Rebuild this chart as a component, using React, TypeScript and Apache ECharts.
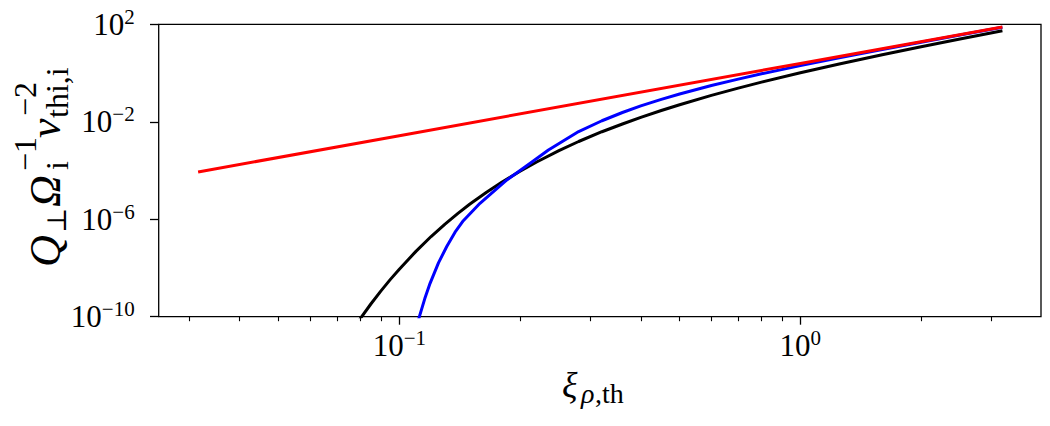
import React, { useEffect, useRef } from "react";
import * as echarts from "echarts";

// ---- data ----
const blackX = [0.078, 0.08, 0.085, 0.09, 0.095, 0.1, 0.11, 0.12, 0.13, 0.14, 0.15, 0.165, 0.18, 0.2, 0.22, 0.25, 0.28, 0.32, 0.36, 0.4, 0.45, 0.5, 0.6, 0.7, 0.8, 1.0, 1.25, 1.6, 2.0, 2.5, 3.19];
const blackY = [4.7e-11, 8.5e-11, 3.4e-10, 1.15e-9, 3.4e-9, 8.9e-9, 4.8e-8, 1.95e-7, 6.3e-7, 1.74e-6, 4.2e-6, 1.29e-5, 3.3e-5, 9.3e-5, 2.24e-4, 6.5e-4, 1.55e-3, 3.9e-3, 8.1e-3, 1.51e-2, 2.9e-2, 5.0e-2, 0.121, 0.24, 0.424, 1.03, 2.36, 5.64, 12.0, 25.0, 54.7];

const blueX = [0.1096, 0.1122, 0.1157, 0.1193, 0.1252, 0.1313, 0.1377, 0.1444, 0.1589, 0.1854, 0.212, 0.2354, 0.28, 0.32, 0.36, 0.4, 0.45, 0.5, 0.6, 0.7, 0.8, 1.0, 1.25, 1.6, 2.0, 2.5, 3.19];
const blueY = [2.5e-11, 1.0e-10, 5.4e-10, 2.34e-9, 1.62e-8, 7.6e-8, 2.95e-7, 8.7e-7, 4.5e-6, 4.08e-5, 1.98e-4, 6.95e-4, 3.98e-3, 1.1e-2, 2.4e-2, 4.47e-2, 8.3e-2, 0.138, 0.306, 0.562, 0.927, 2.02, 4.21, 9.23, 18.4, 36.4, 75.9];

const redX = [0.0315, 0.1, 1.0, 3.19];
const redY = [8.7e-5, 2.69e-3, 2.48, 77.4];

const xMajorTicks = [0.1, 1];
const xMinorTicks = [0.03, 0.04, 0.05, 0.06, 0.07, 0.08, 0.09, 0.2, 0.3, 0.4, 0.5, 0.6, 0.7, 0.8, 0.9, 2, 3];
const yMajorTicks = [1e-10, 1e-6, 1e-2, 1e2];
const xMin = 0.025119; // 10^-1.6
const xMax = 3.98107; // 10^0.6
const yMin = 1e-10;
const yMax = 1e2;

const SERIF = '"Liberation Serif", "DejaVu Serif", serif';

function pairs(xs: number[], ys: number[]) {
  return xs.map((x, i) => [x, ys[i]]);
}

function powLabel(v: number) {
  const e = Math.round(Math.log10(v));
  const s = e < 0 ? "\u2212" + -e : String(e);
  return `{b|10}{s|${s}}`;
}

const richTick = {
  b: { fontFamily: SERIF, fontSize: 31, lineHeight: 36, color: "#000", verticalAlign: "middle" },
  s: { fontFamily: SERIF, fontSize: 21, lineHeight: 21, color: "#000", verticalAlign: "top" },
};

// text helper: place by baseline
function t(text: string, x: number, baseline: number, size: number, italic: boolean, family = SERIF) {
  return {
    type: "text",
    x,
    y: baseline - 0.34 * size,
    silent: true,
    style: {
      text,
      font: `${italic ? "italic " : ""}${size}px ${family}`,
      fill: "#000",
      align: "left",
      verticalAlign: "middle",
    },
  };
}

export default function App() {
  const ref = useRef<HTMLDivElement>(null);
  useEffect(() => {
    document.body.style.margin = "0";
    const chart = echarts.init(ref.current!, null, { renderer: "svg" });
    const F = 44;
    const S = 32;
    const yLabel = {
      type: "group",
      x: 60,
      y: 267,
      rotation: Math.PI / 2,
      children: [
        t("Q", 0, 0, F, true),
        t("\u22A5", 34, 6, 27, false, '"DejaVu Serif", serif'),
        t("\u03A9", 60, 0, F, true),
        t("i", 97, 8, S, false),
        t("\u22121", 96, -24, S, false),
        t("v", 129, 0, F, true),
        t("thi,i", 149, 8, S, false),
        t("\u22122", 151, -24, S, false),
      ],
    };
    const xLabel = {
      type: "group",
      x: 562,
      y: 397,
      children: [
        t("\u03BE", 0, 0, 36, true),
        t("\u03C1", 19, 6, 28, true),
        t(",th", 33, 6, 28, false),
      ],
    };
    const lineSeries = (xs: number[], ys: number[], color: string, z: number) => ({
      type: "line",
      xAxisIndex: 0,
      yAxisIndex: 0,
      data: pairs(xs, ys),
      showSymbol: false,
      symbol: "none",
      smooth: false,
      clip: true,
      lineStyle: { color, width: 3, join: "round", cap: "butt" },
      z,
    });
    chart.setOption({
      animation: false,
      backgroundColor: "#fff",
      grid: {
        left: 158.7,
        right: 9,
        top: 24.3,
        bottom: 109.3,
        show: true,
        borderColor: "#000",
        borderWidth: 1.3,
        backgroundColor: "transparent",
        containLabel: false,
        outerBoundsMode: "none",
      },
      xAxis: [
        {
          type: "log",
          logBase: 10,
          min: xMin,
          max: xMax,
          position: "bottom",
          axisLine: { show: false },
          splitLine: { show: false },
          minorTick: { show: false },
          axisTick: { show: true, inside: false, length: 8, lineStyle: { color: "#000", width: 1.3 }, customValues: xMajorTicks },
          axisLabel: { show: true, margin: 11, customValues: xMajorTicks, formatter: (v: number) => powLabel(v), rich: richTick },
        },
        {
          type: "log",
          logBase: 10,
          min: xMin,
          max: xMax,
          position: "bottom",
          axisLine: { show: false },
          splitLine: { show: false },
          minorTick: { show: false },
          axisTick: { show: true, inside: false, length: 4.5, lineStyle: { color: "#000", width: 1.1 }, customValues: xMinorTicks },
          axisLabel: { show: false },
        },
      ],
      yAxis: [
        {
          type: "log",
          logBase: 10,
          min: yMin,
          max: yMax,
          position: "left",
          axisLine: { show: false },
          splitLine: { show: false },
          minorTick: { show: false },
          axisTick: { show: true, inside: false, length: 8.7, lineStyle: { color: "#000", width: 1.3 }, customValues: yMajorTicks },
          axisLabel: { show: true, margin: 24, customValues: yMajorTicks, formatter: (v: number) => powLabel(v), rich: richTick },
        },
      ],
      graphic: [yLabel, xLabel],
      series: [
        lineSeries(blackX, blackY, "#000000", 2),
        lineSeries(blueX, blueY, "#0000ff", 3),
        lineSeries(redX, redY, "#ff0000", 4),
      ],
    });
    return () => chart.dispose();
  }, []);
  return <div ref={ref} style={{ position: "absolute", left: 0, top: 0, width: 1050, height: 426 }} />;
}
